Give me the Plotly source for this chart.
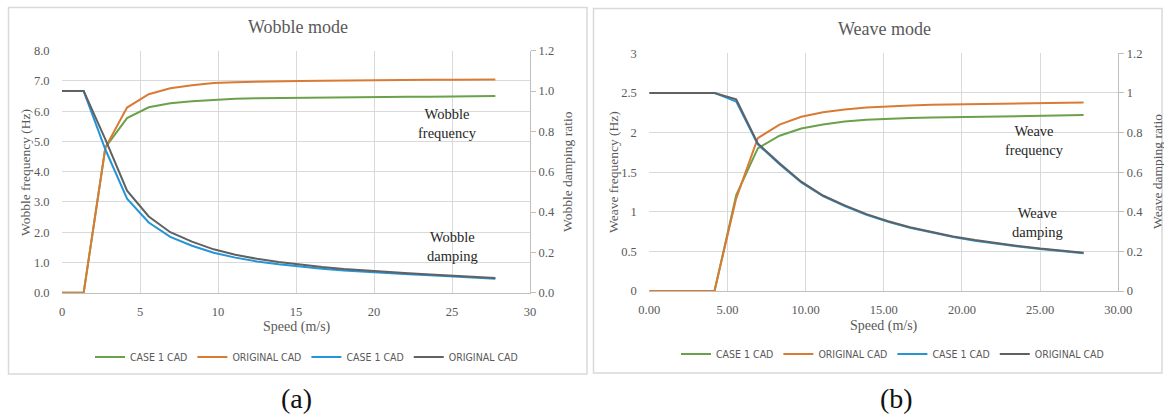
import plotly.graph_objects as go

W, H = 1164, 417

speed = [0, 1.39, 2.78, 4.17, 5.56, 6.94, 8.33, 9.72, 11.11, 12.50, 13.89,
         15.28, 16.67, 18.06, 19.44, 20.83, 22.22, 23.61, 25.00, 26.39, 27.78]

# Wobble mode (a)
wobble_freq_case1 = [0, 0, 4.8, 5.77, 6.13, 6.26, 6.33, 6.38, 6.41, 6.43, 6.44,
                     6.45, 6.46, 6.46, 6.47, 6.47, 6.48, 6.48, 6.49, 6.50, 6.50]
wobble_freq_orig = [0, 0, 4.8, 6.12, 6.56, 6.76, 6.86, 6.93, 6.96, 6.98, 6.99,
                    7.00, 7.01, 7.02, 7.02, 7.03, 7.03, 7.04, 7.04, 7.05, 7.05]
wobble_damp_case1 = [1.0, 1.0, 0.71, 0.466, 0.348, 0.277, 0.233, 0.198, 0.174, 0.155, 0.141,
                     0.129, 0.119, 0.110, 0.103, 0.097, 0.091, 0.086, 0.081, 0.076, 0.069]
wobble_damp_orig = [1.0, 1.0, 0.76, 0.506, 0.378, 0.300, 0.253, 0.215, 0.188, 0.168, 0.152,
                    0.138, 0.127, 0.117, 0.109, 0.102, 0.096, 0.090, 0.085, 0.079, 0.073]

# Weave mode (b)
weave_freq_case1 = [0, 0, 0, 0, 1.21, 1.80, 1.96, 2.05, 2.10, 2.14, 2.16,
                    2.175, 2.185, 2.19, 2.195, 2.20, 2.20, 2.21, 2.21, 2.215, 2.22]
weave_freq_orig = [0, 0, 0, 0, 1.17, 1.93, 2.10, 2.20, 2.255, 2.29, 2.315,
                   2.33, 2.34, 2.35, 2.355, 2.36, 2.365, 2.37, 2.375, 2.38, 2.38]
weave_damp_case1 = [1, 1, 1, 1, 0.956, 0.740, 0.640, 0.548, 0.479, 0.429, 0.385,
                    0.349, 0.319, 0.294, 0.272, 0.254, 0.238, 0.224, 0.212, 0.201, 0.190]
weave_damp_orig = [1, 1, 1, 1, 0.968, 0.745, 0.645, 0.552, 0.482, 0.432, 0.388,
                   0.352, 0.322, 0.297, 0.275, 0.257, 0.241, 0.227, 0.214, 0.203, 0.193]

wobble_freq_ticks = [0, 1, 2, 3, 4, 5, 6, 7, 8]
wobble_freq_ticktext = ["0.0", "1.0", "2.0", "3.0", "4.0", "5.0", "6.0", "7.0", "8.0"]
damp_ticks = [0, 0.2, 0.4, 0.6, 0.8, 1.0, 1.2]
wobble_damp_ticktext = ["0.0", "0.2", "0.4", "0.6", "0.8", "1.0", "1.2"]
weave_damp_ticktext = ["0", "0.2", "0.4", "0.6", "0.8", "1", "1.2"]
weave_freq_ticks = [0, 0.5, 1, 1.5, 2, 2.5, 3]
weave_freq_ticktext = ["0", "0.5", "1", "1.5", "2", "2.5", "3"]
speed_ticks = [0, 5, 10, 15, 20, 25, 30]
speed_ticktext_a = ["0", "5", "10", "15", "20", "25", "30"]
speed_ticktext_b = ["0.00", "5.00", "10.00", "15.00", "20.00", "25.00", "30.00"]

GREEN = "#6BA14A"
ORANGE = "#D97B35"
BLUE = "#2595D6"
GRAY = "#606163"
GRID = "#D9D9D9"
AXIS = "#BFBFBF"
TXT = "#595959"
SERIF = "Liberation Serif, Times New Roman, serif"
SANS = "Liberation Sans Narrow, DejaVu Sans Condensed, Arial Narrow, sans-serif"

def px(x):
    return x / W

def py(y):
    return 1 - y / H

fig = go.Figure()
lw = 2
fig.add_trace(go.Scatter(x=speed, y=wobble_freq_case1, name="CASE 1 CAD", mode="lines",
                         line=dict(color=GREEN, width=lw), xaxis="x", yaxis="y", legend="legend"))
fig.add_trace(go.Scatter(x=speed, y=wobble_freq_orig, name="ORIGINAL CAD", mode="lines",
                         line=dict(color=ORANGE, width=lw), xaxis="x", yaxis="y", legend="legend"))
fig.add_trace(go.Scatter(x=speed, y=wobble_damp_case1, name="CASE 1 CAD", mode="lines",
                         line=dict(color=BLUE, width=lw), xaxis="x", yaxis="y2", legend="legend"))
fig.add_trace(go.Scatter(x=speed, y=wobble_damp_orig, name="ORIGINAL CAD", mode="lines",
                         line=dict(color=GRAY, width=lw), xaxis="x", yaxis="y2", legend="legend"))

fig.add_trace(go.Scatter(x=speed, y=weave_freq_case1, name="CASE 1 CAD", mode="lines",
                         line=dict(color=GREEN, width=lw), xaxis="x3", yaxis="y3", legend="legend2"))
fig.add_trace(go.Scatter(x=speed, y=weave_freq_orig, name="ORIGINAL CAD", mode="lines",
                         line=dict(color=ORANGE, width=lw), xaxis="x3", yaxis="y3", legend="legend2"))
fig.add_trace(go.Scatter(x=speed, y=weave_damp_case1, name="CASE 1 CAD", mode="lines",
                         line=dict(color=BLUE, width=lw), xaxis="x3", yaxis="y4", legend="legend2"))
fig.add_trace(go.Scatter(x=speed, y=weave_damp_orig, name="ORIGINAL CAD", mode="lines",
                         line=dict(color=GRAY, width=lw), xaxis="x3", yaxis="y4", legend="legend2"))

tickfont = dict(family=SERIF, size=12.5, color=TXT)

xa = dict(range=[0, 30], tickvals=speed_ticks, showgrid=True, gridcolor=GRID, gridwidth=1,
          zeroline=False, showline=True, linecolor=AXIS, linewidth=1, ticks="outside",
          ticklen=7, tickcolor="rgba(0,0,0,0)", tickfont=tickfont, fixedrange=True,
          automargin=False)
ya_left = dict(showgrid=True, gridcolor=GRID, gridwidth=1, zeroline=False, showline=False,
               ticks="outside", ticklen=9, tickcolor="rgba(0,0,0,0)", tickfont=tickfont,
               fixedrange=True, automargin=False)
ya_right = dict(showgrid=False, zeroline=False, showline=True, linecolor=AXIS, linewidth=1,
                ticks="outside", ticklen=5, tickcolor=AXIS, tickfont=tickfont, side="right",
                fixedrange=True, range=[0, 1.2], tickvals=damp_ticks, automargin=False)

L_dom = [px(62), px(530)]
L_ydom = [py(292.7), py(50.7)]
R_dom = [px(649.3), px(1118.3)]
R_ydom = [py(291), py(53.3)]

legfont = dict(family=SANS, size=10.5, color=TXT)

fig.update_layout(
    width=W, height=H, margin=dict(l=0, r=0, t=0, b=0, autoexpand=False),
    paper_bgcolor="white", plot_bgcolor="white",
    xaxis=dict(xa, domain=L_dom, anchor="y", ticktext=speed_ticktext_a),
    yaxis=dict(ya_left, domain=L_ydom, anchor="x", range=[0, 8], tickvals=wobble_freq_ticks,
               ticktext=wobble_freq_ticktext),
    yaxis2=dict(ya_right, overlaying="y", anchor="x", ticktext=wobble_damp_ticktext),
    xaxis3=dict(xa, domain=R_dom, anchor="y3", ticktext=speed_ticktext_b),
    yaxis3=dict(ya_left, domain=R_ydom, anchor="x3", range=[0, 3], tickvals=weave_freq_ticks,
                ticktext=weave_freq_ticktext),
    yaxis4=dict(ya_right, overlaying="y3", anchor="x3", ticktext=weave_damp_ticktext),
    legend=dict(orientation="h", x=px(90), y=py(357), xanchor="left", yanchor="middle",
                font=legfont, bgcolor="rgba(0,0,0,0)", itemclick=False, tracegroupgap=0),
    legend2=dict(orientation="h", x=px(676), y=py(354), xanchor="left", yanchor="middle",
                 font=legfont, bgcolor="rgba(0,0,0,0)", itemclick=False, tracegroupgap=0),
    showlegend=True,
)

# chart frames
fig.add_shape(type="rect", xref="paper", yref="paper", x0=px(8.5), x1=px(587), y0=py(374),
              y1=py(7.5), line=dict(color=GRID, width=1.5), layer="below")
fig.add_shape(type="rect", xref="paper", yref="paper", x0=px(593.5), x1=px(1162), y0=py(373),
              y1=py(8.5), line=dict(color=GRID, width=1.5), layer="below")

def note(text, x, y, size=14, color="#262626", angle=0, family=SERIF):
    fig.add_annotation(text=text, x=px(x), y=py(y), xref="paper", yref="paper",
                       showarrow=False, xanchor="center", yanchor="middle", textangle=angle,
                       font=dict(family=family, size=size, color=color))

note("Wobble mode", 298, 27, size=18, color=TXT)
note("Weave mode", 884, 29, size=18, color=TXT)
note("Wobble frequency (Hz)", 25, 173, size=13.5, color=TXT, angle=-90)
note("Wobble damping ratio", 567, 172, size=13.5, color=TXT, angle=-90)
note("Weave frequency (Hz)", 613, 172, size=13.5, color=TXT, angle=-90)
note("Weave damping ratio", 1157, 172, size=13.5, color=TXT, angle=-90)
note("Speed (m/s)", 297, 327, size=14, color=TXT)
note("Speed (m/s)", 884, 326, size=14, color=TXT)
note("Wobble<br>frequency", 447, 124, size=14.5)
note("Wobble<br>damping", 452, 246, size=14.5)
note("Weave<br>frequency", 1034, 140, size=14.5)
note("Weave<br>damping", 1037, 222, size=14.5)
note("(a)", 296, 398, size=28, color="#111111")
note("(b)", 896, 398, size=28, color="#111111")

fig.write_html("out.html", config={"displayModeBar": False})
